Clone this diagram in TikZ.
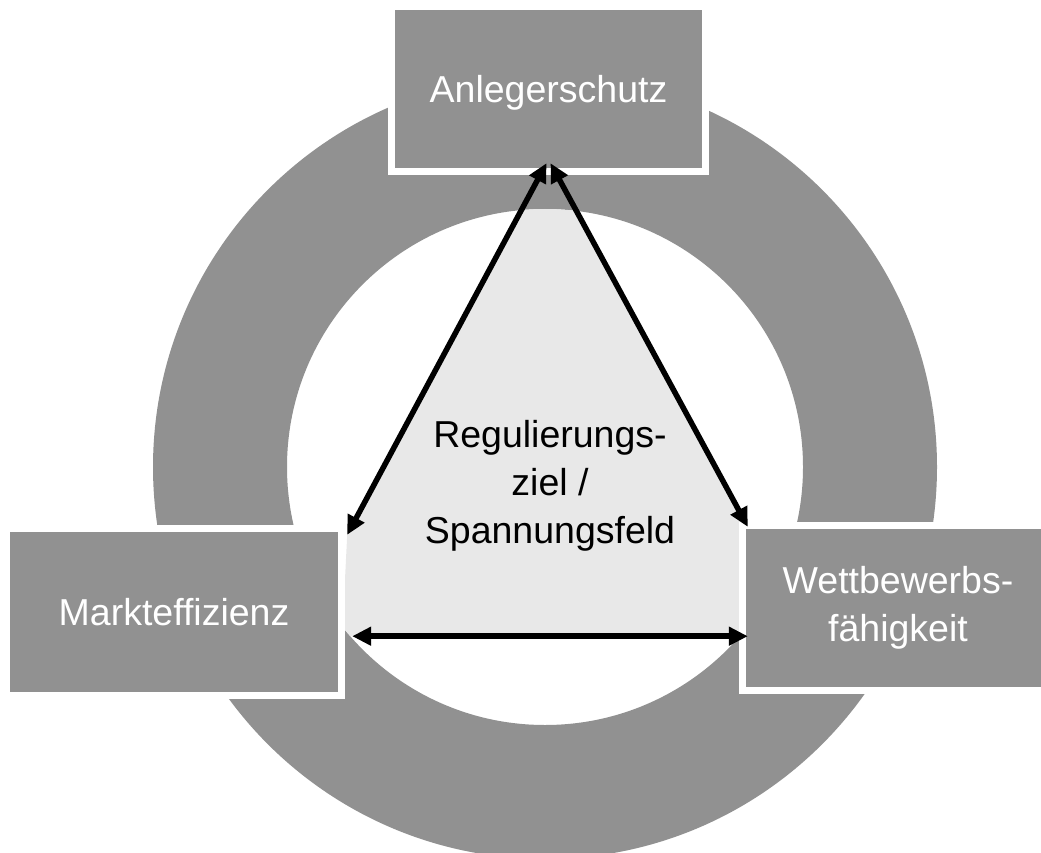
\documentclass[tikz,border=0pt]{standalone}
\usepackage{fontspec}
\setmainfont{Liberation Sans}
\usetikzlibrary{arrows.meta,backgrounds,calc}
\definecolor{ringgray}{RGB}{145,145,145}
\definecolor{fieldgray}{RGB}{232,232,232}
\tikzset{
  goalbox/.style={fill=ringgray, preaction={draw=white, line width=14pt}, line join=miter,
    text=white, inner sep=0pt, align=center, font=\fontsize{37.5}{48}\selectfont},
  centerlabel/.style={text=black, inner sep=0pt, align=center, font=\fontsize{37.5}{48}\selectfont},
  linkarrow/.style={line width=5.5pt, black,
    {Triangle[length=19pt,width=18pt]}-{Triangle[length=19pt,width=18pt]}},
}
\begin{document}
\begin{tikzpicture}[x=1pt, y=-1pt]
  \clip (0,0) rectangle (1041,853);
  % boxes
  \node[goalbox, minimum width=307pt, minimum height=158pt, text depth=-6pt] (anleger) at (548.5,89) {Anlegerschutz};
  \node[goalbox, minimum width=328pt, minimum height=160pt] (markt) at (174,612) {Markteffizienz};
  \node[goalbox, minimum width=304pt, minimum height=158pt] (wettb) at (898,608) {Wettbewerbs-\\fähigkeit};
  \node[centerlabel] (ziel) at (550,486) {Regulierungs-\\ziel /\\Spannungsfeld};
  % arrow end points at the boxes
  \coordinate (topL) at ([xshift=-2pt, yshift=5pt]anleger.south);
  \coordinate (topR) at ([xshift=2pt, yshift=5pt]anleger.south);
  \coordinate (marktTop) at ([xshift=9pt, yshift=-3pt]markt.north east);
  \coordinate (marktLow) at ([xshift=14pt, yshift=56pt]markt.south east);
  \coordinate (wettbTop) at ([xshift=2pt, yshift=2pt]wettb.north west);
  \coordinate (wettbLow) at ([xshift=2pt, yshift=51pt]wettb.south west);
  \begin{pgfonlayer}{background}
    \fill[ringgray, even odd rule] (545,467) circle[radius=392pt] (545,467) circle[radius=258pt];
    \begin{scope}
      \clip (545,467) circle[radius=258pt];
      \fill[fieldgray] (topL) -- (marktTop) -- ([xshift=-5pt]marktTop |- marktLow) -- (wettbLow) -- (wettbTop) -- (topR) -- cycle;
    \end{scope}
  \end{pgfonlayer}
  % arrows
  \draw[linkarrow] (topL) -- (marktTop);
  \draw[linkarrow] (topR) -- (wettbTop);
  \draw[linkarrow] (marktLow) -- (wettbLow);
\end{tikzpicture}
\end{document}
